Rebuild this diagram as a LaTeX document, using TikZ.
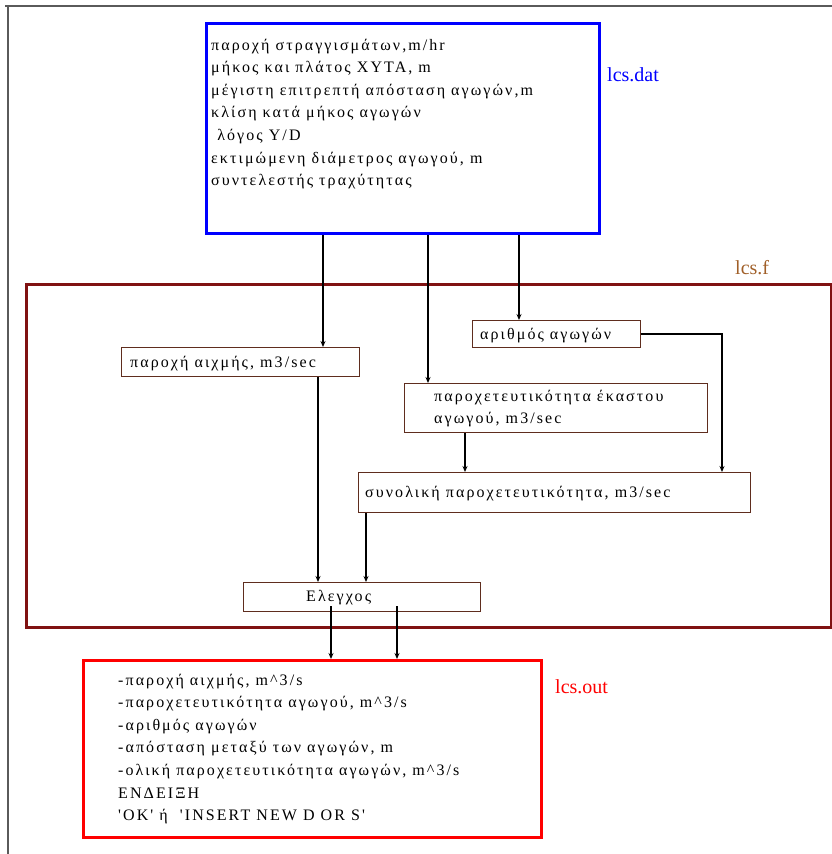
\documentclass[tikz,border=0pt]{standalone}
\usepackage{fontspec}
\setmainfont{Liberation Serif}
\newfontfamily\boxfont[LetterSpace=13]{Liberation Serif}
\usetikzlibrary{arrows.meta}
\definecolor{datblue}{RGB}{0,0,255}
\definecolor{outred}{RGB}{255,0,0}
\definecolor{fred}{RGB}{128,18,18}
\definecolor{flabel}{RGB}{160,95,40}
\definecolor{boxedge}{RGB}{95,45,30}
\definecolor{framegray}{RGB}{90,90,90}
\begin{document}
\begin{tikzpicture}[x=1pt,y=-1pt,
  frame/.style={draw=framegray,line width=1.6pt},
  inbox/.style={draw=boxedge,line width=1.1pt,fill=white,anchor=north west,inner sep=0pt},
  txt/.style={anchor=base west,inner sep=0pt,font=\boxfont\fontsize{16}{22.6}\selectfont,align=left},
  lbl/.style={anchor=base west,inner sep=0pt,font=\fontsize{20}{22}\selectfont},
  arr/.style={draw=black,line width=1.5pt,-{Stealth[length=6pt,width=5pt]}}]
\useasboundingbox (0,0) rectangle (832,854);
% outer frame
\coordinate (ftl) at (8,6);
\coordinate (ftr) at (832,6);
\coordinate (fbl) at (8,854);
\draw[frame] (5,6) -- (ftr);
\draw[frame] (ftl) -- (fbl);
% lcs.f container
\node[draw=fred,line width=3pt,anchor=north west,minimum width=805pt,minimum height=343pt,inner sep=0pt] (lcsf) at (25,283) {};
\node[lbl,text=flabel] (lcsflbl) at (735,274) {lcs.f};
% lcs.dat box (text node anchored at the baseline of its last line)
\node[draw=datblue,line width=3pt,fill=white,anchor=north west,minimum width=393pt,minimum height=210pt,inner sep=0pt] (dat) at (205,22) {};
\node[txt] (dattxt) at (211,185.6) {παροχή στραγγισμάτων,m/hr\\
 μήκος και πλάτος ΧΥΤΑ, m\\
 μέγιστη επιτρεπτή απόσταση αγωγών,m\\
 κλίση κατά μήκος αγωγών\\
 \ λόγος Y/D\\
 εκτιμώμενη διάμετρος αγωγού, m\\
 συντελεστής τραχύτητας};
\node[lbl,text=datblue] (datlbl) at (607,81) {lcs.dat};
% inner boxes
\node[inbox,minimum width=238pt,minimum height=29pt] (peak) at (121,347) {};
\node[txt] (peaktxt) at (130,367) {παροχή αιχμής, m3/sec};
\node[inbox,minimum width=168pt,minimum height=27pt] (arith) at (472,320) {};
\node[txt] (arithtxt) at (480,339) {αριθμός αγωγών};
\node[inbox,minimum width=303pt,minimum height=49pt] (each) at (404,383) {};
\node[txt] (eachtxt) at (434,423.6) {παροχετευτικότητα έκαστου\\αγωγού, m3/sec};
\node[inbox,minimum width=392pt,minimum height=40pt] (total) at (358,472) {};
\node[txt] (totaltxt) at (365,497) {συνολική παροχετευτικότητα, m3/sec};
\node[inbox,minimum width=237pt,minimum height=29pt] (check) at (243,582) {};
\node[txt] (checktxt) at (306,601) {Ελεγχος};
% lcs.out box
\node[draw=outred,line width=3pt,fill=white,anchor=north west,minimum width=458pt,minimum height=177pt,inner sep=0pt] (out) at (82,659) {};
\node[txt] (outtxt) at (118,820.6) {-παροχή αιχμής, m\^{}3/s\\
-παροχετευτικότητα αγωγού, m\^{}3/s\\
-αριθμός αγωγών\\
-απόσταση μεταξύ των αγωγών, m\\
-ολική παροχετευτικότητα αγωγών, m\^{}3/s\\
ΕΝΔΕΙΞΗ\\
'OK' ή \ 'INSERT NEW D OR S'};
\node[lbl,text=outred] (outlbl) at (555,693) {lcs.out};
% connector x positions
\coordinate (xa) at (323,0);
\coordinate (xb) at (428,0);
\coordinate (xc) at (519,0);
\coordinate (xd) at (722,0);
\coordinate (xe) at (465,0);
\coordinate (xf) at (318,0);
\coordinate (xg) at (366,0);
\coordinate (xh) at (331,0);
\coordinate (xi) at (397,0);
% connectors
\draw[arr] (dat.south -| xa) -- (peak.north -| xa);
\draw[arr] (dat.south -| xb) -- (each.north -| xb);
\draw[arr] (dat.south -| xc) -- (arith.north -| xc);
\draw[arr] (arith.east) -- (arith.east -| xd) -- (total.north -| xd);
\draw[arr] (each.south -| xe) -- (total.north -| xe);
\draw[arr] (peak.south -| xf) -- (check.north -| xf);
\draw[arr] (total.south -| xg) -- (check.north -| xg);
\draw[arr] ([yshift=6pt]check.south -| xh) -- (out.north -| xh);
\draw[arr] ([yshift=6pt]check.south -| xi) -- (out.north -| xi);
\end{tikzpicture}
\end{document}
